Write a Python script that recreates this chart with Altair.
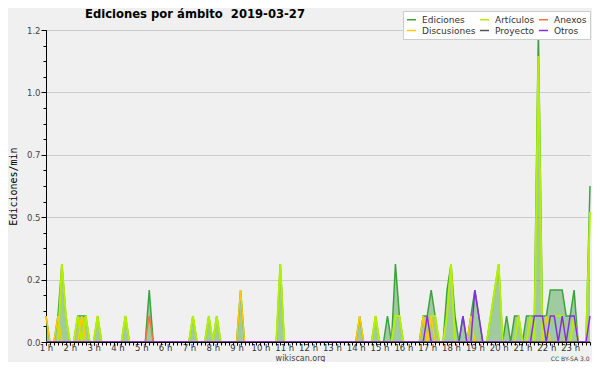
import altair as alt
import pandas as pd

# 10-minute samples from 01:00 to 23:50 (edits per minute)
hours = [round(1 + i / 6, 4) for i in range(138)]

ediciones = [
    0.1, 0, 0, 0.1, 0.3, 0.1, 0, 0, 0.1, 0.1, 0.1, 0,
    0, 0.1, 0, 0, 0, 0, 0, 0, 0.1, 0, 0, 0,
    0, 0, 0.2, 0, 0, 0, 0, 0, 0, 0, 0, 0,
    0, 0.1, 0, 0, 0, 0.1, 0, 0.1, 0, 0, 0, 0,
    0, 0.2, 0, 0, 0, 0, 0, 0, 0, 0, 0, 0.3,
    0, 0, 0, 0, 0, 0, 0, 0, 0, 0, 0, 0,
    0, 0, 0, 0, 0, 0, 0, 0.1, 0, 0, 0, 0.1,
    0, 0, 0.1, 0, 0.3, 0.1, 0, 0, 0, 0, 0, 0.1,
    0.1, 0.2, 0.1, 0, 0, 0.2, 0.3, 0.1, 0, 0.1, 0, 0.1,
    0.2, 0.1, 0, 0, 0.1, 0.2, 0.3, 0, 0.1, 0, 0.1, 0.1,
    0, 0.1, 0.1, 0.1, 1.2, 0.1, 0.1, 0.2, 0.2, 0.2, 0.2, 0.1,
    0.1, 0.2, 0, 0, 0, 0.6,
]
articulos = [
    0, 0, 0, 0, 0.3, 0.1, 0, 0, 0.1, 0, 0.1, 0,
    0, 0.1, 0, 0, 0, 0, 0, 0, 0.1, 0, 0, 0,
    0, 0, 0, 0, 0, 0, 0, 0, 0, 0, 0, 0,
    0, 0.1, 0, 0, 0, 0.1, 0, 0.1, 0, 0, 0, 0,
    0, 0, 0, 0, 0, 0, 0, 0, 0, 0, 0, 0.3,
    0, 0, 0, 0, 0, 0, 0, 0, 0, 0, 0, 0,
    0, 0, 0, 0, 0, 0, 0, 0, 0, 0, 0, 0.1,
    0, 0, 0, 0, 0.1, 0.1, 0, 0, 0, 0, 0, 0,
    0, 0.1, 0.1, 0, 0, 0.1, 0.3, 0, 0, 0, 0, 0,
    0, 0, 0, 0, 0.1, 0.2, 0.3, 0, 0, 0, 0, 0.1,
    0, 0, 0.1, 0, 1.1, 0, 0, 0.1, 0.1, 0.1, 0.1, 0,
    0, 0.1, 0, 0, 0, 0.5,
]
discusiones = [
    0.1, 0, 0, 0.1, 0, 0, 0, 0, 0, 0.1, 0, 0,
    0, 0, 0, 0, 0, 0, 0, 0, 0, 0, 0, 0,
    0, 0, 0, 0, 0, 0, 0, 0, 0, 0, 0, 0,
    0, 0, 0, 0, 0, 0, 0, 0, 0, 0, 0, 0,
    0, 0.2, 0, 0, 0, 0, 0, 0, 0, 0, 0, 0,
    0, 0, 0, 0, 0, 0, 0, 0, 0, 0, 0, 0,
    0, 0, 0, 0, 0, 0, 0, 0.1, 0, 0, 0, 0,
    0, 0, 0, 0, 0, 0, 0, 0, 0, 0, 0, 0.1,
    0, 0.1, 0, 0, 0, 0, 0, 0, 0, 0, 0, 0.1,
    0, 0, 0, 0, 0, 0, 0, 0, 0, 0, 0, 0,
    0, 0, 0, 0, 0, 0, 0.1, 0, 0, 0, 0, 0,
    0, 0, 0, 0, 0, 0,
]
anexos = [
    0, 0, 0, 0, 0, 0, 0, 0, 0, 0, 0, 0,
    0, 0, 0, 0, 0, 0, 0, 0, 0, 0, 0, 0,
    0, 0, 0.1, 0, 0, 0, 0, 0, 0, 0, 0, 0,
    0, 0, 0, 0, 0, 0, 0, 0, 0, 0, 0, 0,
    0, 0, 0, 0, 0, 0, 0, 0, 0, 0, 0, 0,
    0, 0, 0, 0, 0, 0, 0, 0, 0, 0, 0, 0,
    0, 0, 0, 0, 0, 0, 0, 0, 0, 0, 0, 0,
    0, 0, 0, 0, 0, 0, 0, 0, 0, 0, 0, 0,
    0, 0, 0, 0, 0, 0, 0, 0, 0, 0, 0, 0,
    0, 0, 0, 0, 0, 0, 0, 0, 0, 0, 0, 0,
    0, 0, 0, 0, 0, 0, 0, 0, 0, 0, 0, 0,
    0, 0, 0, 0, 0, 0,
]
proyecto = [
    0, 0, 0, 0, 0, 0, 0, 0, 0, 0, 0, 0,
    0, 0, 0, 0, 0, 0, 0, 0, 0, 0, 0, 0,
    0, 0, 0, 0, 0, 0, 0, 0, 0, 0, 0, 0,
    0, 0, 0, 0, 0, 0, 0, 0, 0, 0, 0, 0,
    0, 0, 0, 0, 0, 0, 0, 0, 0, 0, 0, 0,
    0, 0, 0, 0, 0, 0, 0, 0, 0, 0, 0, 0,
    0, 0, 0, 0, 0, 0, 0, 0, 0, 0, 0, 0,
    0, 0, 0, 0, 0, 0, 0, 0, 0, 0, 0, 0,
    0, 0, 0, 0, 0, 0, 0, 0, 0, 0, 0, 0,
    0, 0, 0, 0, 0, 0, 0, 0, 0, 0, 0, 0,
    0, 0, 0, 0, 0, 0, 0, 0, 0, 0, 0, 0,
    0, 0, 0, 0, 0, 0,
]
otros = [
    0, 0, 0, 0, 0, 0, 0, 0, 0, 0, 0, 0,
    0, 0, 0, 0, 0, 0, 0, 0, 0, 0, 0, 0,
    0, 0, 0, 0, 0, 0, 0, 0, 0, 0, 0, 0,
    0, 0, 0, 0, 0, 0, 0, 0, 0, 0, 0, 0,
    0, 0, 0, 0, 0, 0, 0, 0, 0, 0, 0, 0,
    0, 0, 0, 0, 0, 0, 0, 0, 0, 0, 0, 0,
    0, 0, 0, 0, 0, 0, 0, 0, 0, 0, 0, 0,
    0, 0, 0, 0, 0, 0, 0, 0, 0, 0, 0, 0,
    0.1, 0, 0, 0, 0, 0, 0, 0, 0, 0.1, 0, 0,
    0.2, 0.1, 0, 0, 0, 0, 0, 0, 0, 0, 0, 0,
    0, 0, 0, 0.1, 0.1, 0.1, 0, 0.1, 0.1, 0, 0.1, 0,
    0.1, 0.1, 0, 0, 0, 0.1,
]

series = {
    "Ediciones": ediciones,
    "Artículos": articulos,
    "Discusiones": discusiones,
    "Anexos": anexos,
    "Proyecto": proyecto,
    "Otros": otros,
}
# legend fills column by column: (Ediciones, Discusiones) (Artículos, Proyecto) (Anexos, Otros)
legend_order = ["Ediciones", "Discusiones", "Artículos", "Proyecto", "Anexos", "Otros"]
legend_colors = ["#3ca33c", "#ffcc00", "#b4f000", "#555555", "#ff7040", "#8a2be2"]
draw_order = ["Ediciones", "Artículos", "Discusiones", "Anexos", "Proyecto", "Otros"]
widths = {"Ediciones": 1.5, "Artículos": 2, "Discusiones": 1.5, "Anexos": 1.5,
          "Proyecto": 1.5, "Otros": 1.5}

hour_ticks = list(range(1, 24))
minor_x_ticks = hours
y_ticks = [0, 0.24, 0.48, 0.72, 0.96, 1.2]
minor_y_ticks = [round(0.06 * k, 2) for k in range(21)]

rows = []
for name, vals in series.items():
    for t, v in zip(hours, vals):
        rows.append({"t": t, "v": v, "serie": name})
df = pd.DataFrame(rows)

FONT = "DejaVu Sans"

xscale = alt.Scale(domain=[hours[0], hours[-1]], nice=False, zero=False)
yscale = alt.Scale(domain=[0, 1.2], nice=False, zero=True)
cscale = alt.Scale(domain=legend_order, range=legend_colors)

x_major_axis = alt.Axis(
    values=hour_ticks, labelExpr="datum.value + ' h'", orient="bottom",
    labelFont=FONT, labelFontSize=8.5, labelColor="#333",
    labelPadding=-2, labelFlush=False, labelOverlap=False, labelBound=False,
    tickSize=3, tickColor="black", domainColor="black", grid=False,
    title="wikiscan.org", titleFont=FONT, titleFontSize=8,
    titleFontWeight="normal", titleColor="#444", titleX=254, titleY=18,
    titleAlign="center", titleBaseline="alphabetic", zindex=1,
)
x_minor_axis = alt.Axis(
    values=minor_x_ticks, orient="bottom", labels=False, domain=False,
    tickSize=3, tickColor="black", grid=False,
    title="CC BY-SA 3.0", titleFont=FONT, titleFontSize=6,
    titleFontWeight="normal", titleColor="#444", titleX=543, titleY=18,
    titleAlign="right", titleBaseline="alphabetic", zindex=1,
)
y_major_axis = alt.Axis(
    values=y_ticks, format=".1f", orient="left", grid=True, gridColor="#cccccc",
    domainColor="black", tickColor="black", tickSize=5,
    labelFont=FONT, labelFontSize=8.5, labelColor="#444", labelPadding=1,
    title="Ediciones/min", titleFont="DejaVu Sans Mono", titleFontSize=10,
    titleFontWeight="normal", titleColor="black", titleX=-30,
    titleBaseline="alphabetic", zindex=0,
)
y_minor_axis = alt.Axis(
    values=minor_y_ticks, orient="left", labels=False, domain=False, grid=False,
    tickSize=3, tickColor="black", title=None, zindex=1,
)

legend = alt.Legend(
    title=None, orient="none", legendX=357, legendY=-19, columns=3,
    symbolType="stroke", symbolSize=81, symbolStrokeWidth=1.5,
    labelFont=FONT, labelFontSize=9, labelColor="#333",
    fillColor="white", strokeColor="#cccccc", padding=3, rowPadding=0,
    columnPadding=1, labelOffset=5,
)

base = alt.Chart(df)

area = base.transform_filter(alt.datum.serie == "Ediciones").mark_area(
    color="#339933", opacity=0.42
).encode(
    x=alt.X("t:Q", scale=xscale, axis=x_major_axis),
    y=alt.Y("v:Q", scale=yscale, axis=y_major_axis),
)

layers = [area]
for k, name in enumerate(draw_order):
    layer = base.transform_filter(alt.datum.serie == name).mark_line(
        strokeWidth=widths[name], interpolate="linear"
    ).encode(
        x=alt.X("t:Q", scale=xscale, axis=x_minor_axis if k == 0 else None),
        y=alt.Y("v:Q", scale=yscale, axis=y_minor_axis if k == 0 else None),
        color=alt.Color("serie:N", scale=cscale, legend=legend),
    )
    layers.append(layer)

chart = alt.layer(*layers).resolve_axis(
    x="independent", y="independent"
).properties(
    width=544, height=312,
    autosize=alt.AutoSizeParams(type="none"),
    padding={"left": 38, "top": 22, "right": 2, "bottom": 20},
    title=alt.TitleParams(
        text="Ediciones por ámbito\u00a0 2019-03-27", anchor="start", frame="group",
        dx=39, dy=14, offset=4, font=FONT, fontSize=11.6,
        fontWeight="bold", color="black",
    ),
).configure(background="#f0f0f0").configure_view(stroke=None)

chart.save("out.html", embed_options={"renderer": "svg", "actions": False})
